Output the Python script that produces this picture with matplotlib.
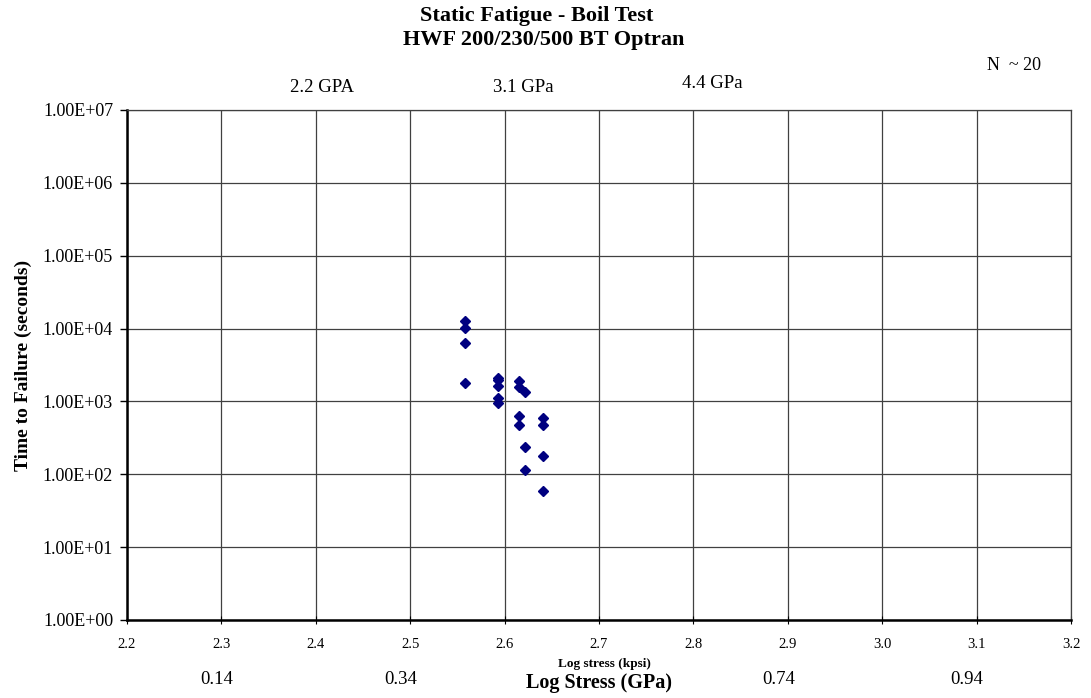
import numpy as np
import matplotlib
matplotlib.use('Agg')
import matplotlib.pyplot as plt

plt.rcParams['font.family'] = ['Liberation Serif', 'DejaVu Serif']

# log10 stress (kpsi) and time to failure (s)
log_stress = [2.558, 2.558, 2.558, 2.558,
              2.593, 2.593, 2.593, 2.593, 2.593,
              2.615, 2.615, 2.615, 2.615,
              2.622, 2.622, 2.622,
              2.641, 2.641, 2.641, 2.641]
ttf = [12900, 10200, 6300, 1770,
       2100, 1960, 1640, 1110, 950,
       1900, 1590, 640, 470,
       1340, 235, 116,
       600, 470, 178, 59]

xticks = [2.2, 2.3, 2.4, 2.5, 2.6, 2.7, 2.8, 2.9, 3.0, 3.1, 3.2]
yticks = [1e0, 1e1, 1e2, 1e3, 1e4, 1e5, 1e6, 1e7]
gpa_pos = [2.295, 2.49, 2.89, 3.09]
gpa_lab = ['0.14', '0.34', '0.74', '0.94']

fig = plt.figure(figsize=(10.91, 6.98), dpi=100)
H = 620 - 110
ax = fig.add_axes([127/1091, 1-620/698, (1071-127)/1091, H/698])

ax.plot(log_stress, ttf, 'D', color='#000080', markersize=5.5, zorder=3)
ax.set_yscale('log')
ax.set_xlim(2.2, 3.2)
ax.set_ylim(1, 1e7)
ax.set_xticks(xticks)
ax.set_xticklabels(['%.1f' % v for v in xticks], fontsize=10.5)
ax.set_yticks(yticks)
ax.set_yticklabels(['%.2fE+%02d' % (1.0, int(np.log10(v))) for v in yticks], fontsize=13)
ax.yaxis.set_minor_locator(matplotlib.ticker.NullLocator())
ax.grid(True, color='#404040', linewidth=0.9)
ax.tick_params(axis='y', direction='out', length=5, width=1, pad=5)
ax.tick_params(axis='x', direction='inout', length=6, width=0.8, pad=10)
for s in ['top', 'right']:
    ax.spines[s].set_linewidth(0.9)
    ax.spines[s].set_color('#404040')
for s in ['left', 'bottom']:
    ax.spines[s].set_linewidth(1.8)

ax.set_ylabel('Time to Failure (seconds)', fontsize=14, fontweight='bold', labelpad=8)

fig.text(537/1091, 1-16/698, 'Static Fatigue - Boil Test', ha='center', va='center', fontsize=16, fontweight='bold')
fig.text(544/1091, 1-40/698, 'HWF 200/230/500 BT Optran', ha='center', va='center', fontsize=16, fontweight='bold')
fig.text(1014/1091, 1-65/698, 'N  ~ 20', ha='center', va='center', fontsize=13)

tr = ax.get_xaxis_transform()
ax.text(2.4065, 1+22/H, '2.2 GPA', transform=tr, ha='center', va='center', fontsize=13.5)
ax.text(2.6195, 1+22/H, '3.1 GPa', transform=tr, ha='center', va='center', fontsize=13.5)
ax.text(2.8197, 1+26/H, '4.4 GPa', transform=tr, ha='center', va='center', fontsize=13.5)

for p, l in zip(gpa_pos, gpa_lab):
    ax.text(p, -59/H, l, transform=tr, ha='center', va='center', fontsize=13.5)
ax.text(2.706, -44/H, 'Log stress (kpsi)', transform=tr, ha='center', va='center', fontsize=9.5, fontweight='bold')
ax.text(2.7, -63/H, 'Log Stress (GPa)', transform=tr, ha='center', va='center', fontsize=14.5, fontweight='bold')

fig.savefig('out.png', dpi=100)
